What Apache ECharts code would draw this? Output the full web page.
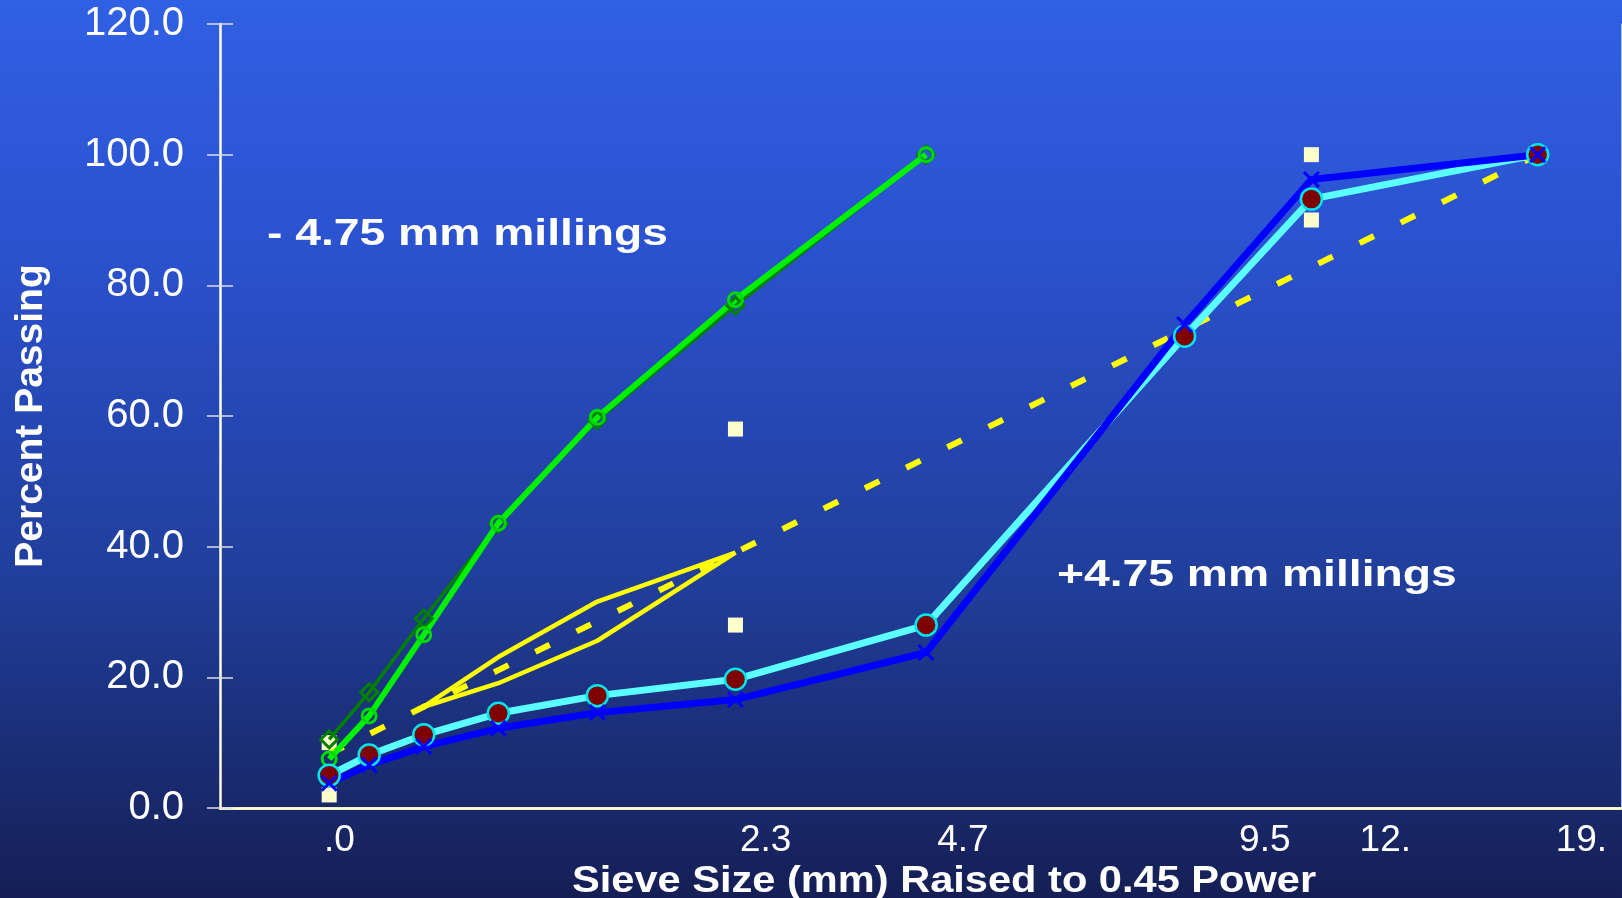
<!DOCTYPE html>
<html>
<head>
<meta charset="utf-8">
<script src="https://cdn.jsdelivr.net/npm/echarts@6/dist/echarts.min.js"></script>
<style>
html,body{margin:0;padding:0;background:#1a2a70;}
#chart{width:1622px;height:898px;}
</style>
</head>
<body>
<div id="chart"></div>
<script>
// ---- data ----
const sieveSizes = [0.075, 0.15, 0.3, 0.6, 1.18, 2.36, 4.75, 9.5, 12.5, 19];
const fineMillingsA = [7.5, 14.1, 26.5, 43.6, 59.8, 77.8, 100];      // bright green, circles
const fineMillingsB = [10.5, 17.7, 29.0, 43.5, 59.4, 76.9, 100];     // dark green, diamonds
const coarseMillingsA = [5.0, 8.1, 11.2, 14.5, 17.2, 19.7, 28.0, 72.2, 93.2, 100]; // cyan
const coarseMillingsB = [3.8, 6.6, 9.4, 12.2, 14.6, 16.6, 23.8, 74.0, 96.2, 100];  // blue
const maxDensity = [8.3, 11.3, 15.5, 21.1, 28.6, 39.1, 53.6, 73.2, 82.8, 100];
const rzSizes = [0.3, 0.6, 1.18, 2.36];
const rzUpper = [15.5, 23.1, 31.6, 39.1];
const rzLower = [15.5, 19.1, 25.6, 39.1];
const cpSizes = [0.075, 0.075, 2.36, 2.36, 12.5, 12.5];
const cpValues = [2, 10, 28, 58, 90, 100];
const xTickLabels = ['.0', '2.3', '4.7', '9.5', '12.', '19.'];
const xTickValues = [0.341, 1.558, 2.121, 2.983, 3.327, 3.887];
const annotationFine = '- 4.75 mm millings';
const annotationCoarse = '+4.75 mm millings';
const xTitle = 'Sieve Size (mm) Raised to 0.45 Power';
const yTitle = 'Percent Passing';

const POWER = 0.45;
function pts(sizes, vals) {
  return vals.map((v, i) => [Math.pow(sizes[i], POWER), v]);
}

const FONT = "'Liberation Sans', Arial, Helvetica, sans-serif";
const xSym = 'path://M1.25,0 L5,3.75 L8.75,0 L10,1.25 L6.25,5 L10,8.75 L8.75,10 L5,6.25 L1.25,10 L0,8.75 L3.75,5 L0,1.25 Z';

const chart = echarts.init(document.getElementById('chart'), null, {renderer: 'canvas'});
const option = {
  animation: false,
  backgroundColor: {
    type: 'linear', x: 0, y: 0, x2: 0, y2: 1,
    colorStops: [
      {offset: 0, color: '#3060e3'},
      {offset: 0.27, color: '#2b52cf'},
      {offset: 0.66, color: '#203d98'},
      {offset: 1, color: '#151f55'}
    ]
  },
  grid: {left: 220, right: 1, top: 24, bottom: 90, show: false},
  xAxis: [
    {
      type: 'value', min: 0, max: 4, position: 'bottom',
      axisLine: {show: true, lineStyle: {color: '#f2f2e2', width: 2.5}},
      axisTick: {show: false},
      splitLine: {show: false},
      axisLabel: {
        customValues: xTickValues,
        color: '#ffffff', fontSize: 37, fontFamily: FONT, margin: 14,
        formatter: function (v) {
          let best = 0, d = 1e9;
          xTickValues.forEach((t, i) => { if (Math.abs(t - v) < d) { d = Math.abs(t - v); best = i; } });
          return xTickLabels[best];
        }
      }
    },
    {
      type: 'value', min: 0, max: 4, position: 'top',
      axisLine: {show: true, lineStyle: {color: '#ffffc8', width: 2.5}},
      axisTick: {show: false}, axisLabel: {show: false}, splitLine: {show: false}
    }
  ],
  yAxis: [
    {
      type: 'value', min: 0, max: 120, interval: 20, position: 'left',
      axisLine: {show: true, lineStyle: {color: '#ffffe0', width: 2.5}},
      axisTick: {show: true, inside: false, length: 13, lineStyle: {color: '#dcdce6', width: 1.5}},
      splitLine: {show: false},
      axisLabel: {
        color: '#ffffff', fontSize: 40, fontFamily: FONT, margin: 36,
        formatter: v => v.toFixed(1)
      }
    },
    {
      type: 'value', min: 0, max: 120, interval: 20, position: 'left',
      axisLine: {show: false},
      axisTick: {show: true, inside: true, length: 13, lineStyle: {color: '#dcdce6', width: 1.5}},
      axisLabel: {show: false}, splitLine: {show: false}
    },
    {
      type: 'value', min: 0, max: 120, interval: 20, position: 'right',
      axisLine: {show: true, lineStyle: {color: '#b8c4f0', width: 1}},
      axisTick: {show: false}, axisLabel: {show: false}, splitLine: {show: false}
    }
  ],
  series: [
    {
      name: 'Control points', type: 'scatter',
      data: pts(cpSizes, cpValues),
      symbol: 'rect', symbolSize: 15,
      itemStyle: {color: '#ffffcc', opacity: 1}
    },
    {
      name: 'Max density', type: 'line',
      data: pts(sieveSizes, maxDensity),
      showSymbol: false, symbol: 'none',
      lineStyle: {color: '#ffff00', width: 6, type: [16, 30]}
    },
    {
      name: 'Restricted zone upper', type: 'line',
      data: pts(rzSizes, rzUpper), symbol: 'none',
      lineStyle: {color: '#ffff00', width: 4.5}
    },
    {
      name: 'Restricted zone lower', type: 'line',
      data: pts(rzSizes, rzLower), symbol: 'none',
      lineStyle: {color: '#ffff00', width: 4.5}
    },
    {
      name: '-4.75 B', type: 'line',
      data: pts(sieveSizes, fineMillingsB),
      symbol: 'diamond', symbolSize: 17,
      lineStyle: {color: '#008000', width: 3.5},
      itemStyle: {color: 'rgba(0,0,0,0)', borderColor: '#008000', borderWidth: 3}
    },
    {
      name: '-4.75 A', type: 'line',
      data: pts(sieveSizes, fineMillingsA),
      symbol: 'circle', symbolSize: 14,
      lineStyle: {color: '#00f000', width: 6},
      itemStyle: {color: 'rgba(0,0,0,0)', borderColor: '#00d800', borderWidth: 3}
    },
    {
      name: '+4.75 A', type: 'line',
      data: pts(sieveSizes, coarseMillingsA),
      symbol: 'circle', symbolSize: 21,
      lineStyle: {color: '#5cffff', width: 7},
      itemStyle: {color: '#7f0000', borderColor: '#00e5ee', borderWidth: 2.5, opacity: 1}
    },
    {
      name: '+4.75 B', type: 'line',
      data: pts(sieveSizes, coarseMillingsB),
      symbol: xSym, symbolSize: 17,
      lineStyle: {color: '#0000ff', width: 7},
      itemStyle: {color: '#0000ff', opacity: 1}
    }
  ],
  graphic: [
    {
      type: 'text', x: 267, y: 235, scaleX: 1.25, scaleY: 1,
      style: {text: annotationFine, fill: '#ffffff', font: 'bold 37px ' + FONT, textAlign: 'left', textVerticalAlign: 'middle'}
    },
    {
      type: 'text', x: 1057, y: 576, scaleX: 1.25, scaleY: 1,
      style: {text: annotationCoarse, fill: '#ffffff', font: 'bold 37px ' + FONT, textAlign: 'left', textVerticalAlign: 'middle'}
    },
    {
      type: 'text', x: 572, y: 882, scaleX: 1.155, scaleY: 1,
      style: {text: xTitle, fill: '#ffffff', font: 'bold 36px ' + FONT, textAlign: 'left', textVerticalAlign: 'middle'}
    },
    {
      type: 'text', x: 31, y: 416, rotation: Math.PI / 2,
      style: {text: yTitle, fill: '#ffffff', font: 'bold 39px ' + FONT, textAlign: 'center', textVerticalAlign: 'middle'}
    }
  ]
};
chart.setOption(option);
</script>
</body>
</html>
